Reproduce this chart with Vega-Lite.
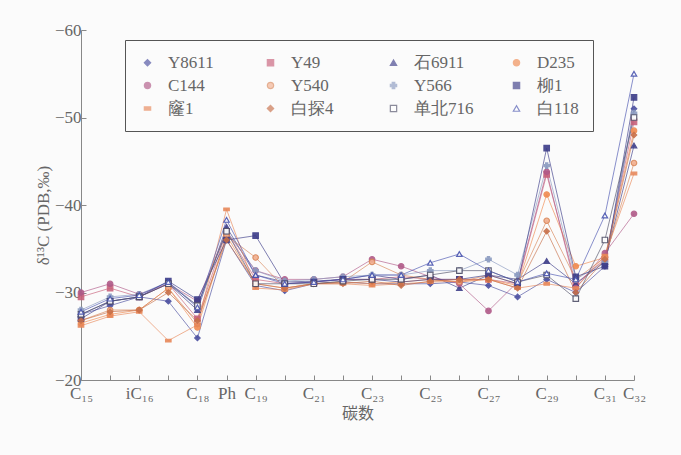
{
  "$schema": "https://vega.github.io/schema/vega-lite/v6.json",
  "autosize": {"type": "none"},
  "width": 553,
  "height": 350,
  "padding": {"left": 81, "top": 30, "right": 47, "bottom": 75},
  "background": "#fbfbfb",
  "config": {
    "view": {"stroke": null},
    "font": "Liberation Serif",
    "axis": {"labelFont": "Liberation Serif", "titleFont": "Liberation Serif", "labelColor": "#666", "titleColor": "#666", "domainColor": "#888", "tickColor": "#888", "grid": false, "labelFontSize": 17, "titleFontSize": 17, "titleFontWeight": "normal"},
    "legend": {"labelFont": "Liberation Serif", "labelFontSize": 17, "labelColor": "#666"}
  },
  "data": {"values": [
    {"s":"Y8611","c":"C₁₅","v":-27.5},{"s":"Y8611","c":"C₁₆","v":-28.5},{"s":"Y8611","c":"iC₁₆","v":-29.5},{"s":"Y8611","c":"C₁₇","v":-29.0},{"s":"Y8611","c":"C₁₈","v":-24.8},{"s":"Y8611","c":"Ph","v":-36.0},{"s":"Y8611","c":"C₁₉","v":-30.8},{"s":"Y8611","c":"C₂₀","v":-30.2},{"s":"Y8611","c":"C₂₁","v":-31.0},{"s":"Y8611","c":"C₂₂","v":-31.2},{"s":"Y8611","c":"C₂₃","v":-31.0},{"s":"Y8611","c":"C₂₄","v":-31.0},{"s":"Y8611","c":"C₂₅","v":-31.0},{"s":"Y8611","c":"C₂₆","v":-31.2},{"s":"Y8611","c":"C₂₇","v":-30.8},{"s":"Y8611","c":"C₂₈","v":-29.5},{"s":"Y8611","c":"C₂₉","v":-31.5},{"s":"Y8611","c":"C₃₀","v":-30.0},{"s":"Y8611","c":"C₃₁","v":-33.0},{"s":"Y8611","c":"C₃₂","v":-51.0},
    {"s":"Y49","c":"C₁₅","v":-29.5},{"s":"Y49","c":"C₁₆","v":-30.5},{"s":"Y49","c":"iC₁₆","v":-29.5},{"s":"Y49","c":"C₁₇","v":-31.0},{"s":"Y49","c":"C₁₈","v":-27.0},{"s":"Y49","c":"Ph","v":-37.0},{"s":"Y49","c":"C₁₉","v":-31.5},{"s":"Y49","c":"C₂₀","v":-31.0},{"s":"Y49","c":"C₂₁","v":-31.2},{"s":"Y49","c":"C₂₂","v":-31.5},{"s":"Y49","c":"C₂₃","v":-31.5},{"s":"Y49","c":"C₂₄","v":-31.8},{"s":"Y49","c":"C₂₅","v":-31.5},{"s":"Y49","c":"C₂₆","v":-31.5},{"s":"Y49","c":"C₂₇","v":-31.5},{"s":"Y49","c":"C₂₈","v":-31.0},{"s":"Y49","c":"C₂₉","v":-43.5},{"s":"Y49","c":"C₃₀","v":-31.0},{"s":"Y49","c":"C₃₁","v":-33.8},{"s":"Y49","c":"C₃₂","v":-49.5},
    {"s":"石6911","c":"C₁₅","v":-27.5},{"s":"石6911","c":"C₁₆","v":-29.0},{"s":"石6911","c":"iC₁₆","v":-29.5},{"s":"石6911","c":"C₁₇","v":-31.0},{"s":"石6911","c":"C₁₈","v":-28.0},{"s":"石6911","c":"Ph","v":-37.5},{"s":"石6911","c":"C₁₉","v":-32.0},{"s":"石6911","c":"C₂₀","v":-31.2},{"s":"石6911","c":"C₂₁","v":-31.3},{"s":"石6911","c":"C₂₂","v":-31.5},{"s":"石6911","c":"C₂₃","v":-32.0},{"s":"石6911","c":"C₂₄","v":-31.5},{"s":"石6911","c":"C₂₅","v":-32.0},{"s":"石6911","c":"C₂₆","v":-30.5},{"s":"石6911","c":"C₂₇","v":-32.0},{"s":"石6911","c":"C₂₈","v":-31.5},{"s":"石6911","c":"C₂₉","v":-33.6},{"s":"石6911","c":"C₃₀","v":-31.0},{"s":"石6911","c":"C₃₁","v":-33.5},{"s":"石6911","c":"C₃₂","v":-46.8},
    {"s":"D235","c":"C₁₅","v":-26.5},{"s":"D235","c":"C₁₆","v":-27.5},{"s":"D235","c":"iC₁₆","v":-28.0},{"s":"D235","c":"C₁₇","v":-30.5},{"s":"D235","c":"C₁₈","v":-26.0},{"s":"D235","c":"Ph","v":-36.5},{"s":"D235","c":"C₁₉","v":-31.0},{"s":"D235","c":"C₂₀","v":-30.5},{"s":"D235","c":"C₂₁","v":-31.0},{"s":"D235","c":"C₂₂","v":-31.2},{"s":"D235","c":"C₂₃","v":-31.0},{"s":"D235","c":"C₂₄","v":-31.2},{"s":"D235","c":"C₂₅","v":-31.5},{"s":"D235","c":"C₂₆","v":-31.2},{"s":"D235","c":"C₂₇","v":-31.5},{"s":"D235","c":"C₂₈","v":-30.8},{"s":"D235","c":"C₂₉","v":-41.2},{"s":"D235","c":"C₃₀","v":-33.0},{"s":"D235","c":"C₃₁","v":-34.0},{"s":"D235","c":"C₃₂","v":-48.5},
    {"s":"C144","c":"C₁₅","v":-30.0},{"s":"C144","c":"C₁₆","v":-31.0},{"s":"C144","c":"iC₁₆","v":-29.8},{"s":"C144","c":"C₁₇","v":-31.0},{"s":"C144","c":"C₁₈","v":-29.0},{"s":"C144","c":"Ph","v":-37.0},{"s":"C144","c":"C₁₉","v":-32.5},{"s":"C144","c":"C₂₀","v":-31.5},{"s":"C144","c":"C₂₁","v":-31.5},{"s":"C144","c":"C₂₂","v":-31.8},{"s":"C144","c":"C₂₃","v":-33.8},{"s":"C144","c":"C₂₄","v":-33.0},{"s":"C144","c":"C₂₅","v":-31.8},{"s":"C144","c":"C₂₆","v":-31.0},{"s":"C144","c":"C₂₇","v":-27.9},{"s":"C144","c":"C₂₈","v":-31.2},{"s":"C144","c":"C₂₉","v":-43.8},{"s":"C144","c":"C₃₀","v":-30.5},{"s":"C144","c":"C₃₁","v":-34.5},{"s":"C144","c":"C₃₂","v":-39.0},
    {"s":"Y540","c":"C₁₅","v":-26.8},{"s":"Y540","c":"C₁₆","v":-28.0},{"s":"Y540","c":"iC₁₆","v":-28.0},{"s":"Y540","c":"C₁₇","v":-30.5},{"s":"Y540","c":"C₁₈","v":-26.5},{"s":"Y540","c":"Ph","v":-36.5},{"s":"Y540","c":"C₁₉","v":-34.0},{"s":"Y540","c":"C₂₀","v":-30.5},{"s":"Y540","c":"C₂₁","v":-31.0},{"s":"Y540","c":"C₂₂","v":-31.2},{"s":"Y540","c":"C₂₃","v":-33.5},{"s":"Y540","c":"C₂₄","v":-32.0},{"s":"Y540","c":"C₂₅","v":-31.5},{"s":"Y540","c":"C₂₆","v":-31.2},{"s":"Y540","c":"C₂₇","v":-32.0},{"s":"Y540","c":"C₂₈","v":-31.0},{"s":"Y540","c":"C₂₉","v":-38.2},{"s":"Y540","c":"C₃₀","v":-31.5},{"s":"Y540","c":"C₃₁","v":-34.0},{"s":"Y540","c":"C₃₂","v":-44.8},
    {"s":"Y566","c":"C₁₅","v":-28.0},{"s":"Y566","c":"C₁₆","v":-29.5},{"s":"Y566","c":"iC₁₆","v":-29.8},{"s":"Y566","c":"C₁₇","v":-31.2},{"s":"Y566","c":"C₁₈","v":-28.5},{"s":"Y566","c":"Ph","v":-37.0},{"s":"Y566","c":"C₁₉","v":-32.5},{"s":"Y566","c":"C₂₀","v":-31.3},{"s":"Y566","c":"C₂₁","v":-31.5},{"s":"Y566","c":"C₂₂","v":-31.8},{"s":"Y566","c":"C₂₃","v":-32.0},{"s":"Y566","c":"C₂₄","v":-32.0},{"s":"Y566","c":"C₂₅","v":-32.5},{"s":"Y566","c":"C₂₆","v":-32.5},{"s":"Y566","c":"C₂₇","v":-33.8},{"s":"Y566","c":"C₂₈","v":-32.0},{"s":"Y566","c":"C₂₉","v":-44.5},{"s":"Y566","c":"C₃₀","v":-31.5},{"s":"Y566","c":"C₃₁","v":-33.5},{"s":"Y566","c":"C₃₂","v":-50.5},
    {"s":"柳1","c":"C₁₅","v":-27.0},{"s":"柳1","c":"C₁₆","v":-29.0},{"s":"柳1","c":"iC₁₆","v":-29.5},{"s":"柳1","c":"C₁₇","v":-31.3},{"s":"柳1","c":"C₁₈","v":-29.2},{"s":"柳1","c":"Ph","v":-36.0},{"s":"柳1","c":"C₁₉","v":-36.5},{"s":"柳1","c":"C₂₀","v":-31.0},{"s":"柳1","c":"C₂₁","v":-31.2},{"s":"柳1","c":"C₂₂","v":-31.5},{"s":"柳1","c":"C₂₃","v":-31.5},{"s":"柳1","c":"C₂₄","v":-31.2},{"s":"柳1","c":"C₂₅","v":-31.5},{"s":"柳1","c":"C₂₆","v":-31.5},{"s":"柳1","c":"C₂₇","v":-32.0},{"s":"柳1","c":"C₂₈","v":-31.0},{"s":"柳1","c":"C₂₉","v":-46.5},{"s":"柳1","c":"C₃₀","v":-31.8},{"s":"柳1","c":"C₃₁","v":-33.0},{"s":"柳1","c":"C₃₂","v":-52.3},
    {"s":"窿1","c":"C₁₅","v":-26.2},{"s":"窿1","c":"C₁₆","v":-27.3},{"s":"窿1","c":"iC₁₆","v":-27.8},{"s":"窿1","c":"C₁₇","v":-24.5},{"s":"窿1","c":"C₁₈","v":-26.3},{"s":"窿1","c":"Ph","v":-39.5},{"s":"窿1","c":"C₁₉","v":-30.5},{"s":"窿1","c":"C₂₀","v":-30.3},{"s":"窿1","c":"C₂₁","v":-31.0},{"s":"窿1","c":"C₂₂","v":-31.0},{"s":"窿1","c":"C₂₃","v":-30.8},{"s":"窿1","c":"C₂₄","v":-31.0},{"s":"窿1","c":"C₂₅","v":-31.2},{"s":"窿1","c":"C₂₆","v":-31.3},{"s":"窿1","c":"C₂₇","v":-31.5},{"s":"窿1","c":"C₂₈","v":-30.5},{"s":"窿1","c":"C₂₉","v":-31.0},{"s":"窿1","c":"C₃₀","v":-30.5},{"s":"窿1","c":"C₃₁","v":-34.2},{"s":"窿1","c":"C₃₂","v":-43.6},
    {"s":"白探4","c":"C₁₅","v":-26.8},{"s":"白探4","c":"C₁₆","v":-27.8},{"s":"白探4","c":"iC₁₆","v":-28.0},{"s":"白探4","c":"C₁₇","v":-30.0},{"s":"白探4","c":"C₁₈","v":-26.8},{"s":"白探4","c":"Ph","v":-36.0},{"s":"白探4","c":"C₁₉","v":-31.0},{"s":"白探4","c":"C₂₀","v":-30.5},{"s":"白探4","c":"C₂₁","v":-31.0},{"s":"白探4","c":"C₂₂","v":-31.0},{"s":"白探4","c":"C₂₃","v":-31.3},{"s":"白探4","c":"C₂₄","v":-30.8},{"s":"白探4","c":"C₂₅","v":-31.3},{"s":"白探4","c":"C₂₆","v":-31.5},{"s":"白探4","c":"C₂₇","v":-31.5},{"s":"白探4","c":"C₂₈","v":-30.5},{"s":"白探4","c":"C₂₉","v":-37.0},{"s":"白探4","c":"C₃₀","v":-30.0},{"s":"白探4","c":"C₃₁","v":-33.8},{"s":"白探4","c":"C₃₂","v":-48.0},
    {"s":"单北716","c":"C₁₅","v":-27.5},{"s":"单北716","c":"C₁₆","v":-29.0},{"s":"单北716","c":"iC₁₆","v":-29.5},{"s":"单北716","c":"C₁₇","v":-31.0},{"s":"单北716","c":"C₁₈","v":-28.5},{"s":"单北716","c":"Ph","v":-37.0},{"s":"单北716","c":"C₁₉","v":-31.0},{"s":"单北716","c":"C₂₀","v":-31.0},{"s":"单北716","c":"C₂₁","v":-31.0},{"s":"单北716","c":"C₂₂","v":-31.3},{"s":"单北716","c":"C₂₃","v":-31.5},{"s":"单北716","c":"C₂₄","v":-31.5},{"s":"单北716","c":"C₂₅","v":-32.0},{"s":"单北716","c":"C₂₆","v":-32.5},{"s":"单北716","c":"C₂₇","v":-32.5},{"s":"单北716","c":"C₂₈","v":-31.2},{"s":"单北716","c":"C₂₉","v":-32.0},{"s":"单北716","c":"C₃₀","v":-29.3},{"s":"单北716","c":"C₃₁","v":-36.0},{"s":"单北716","c":"C₃₂","v":-50.0},
    {"s":"白118","c":"C₁₅","v":-27.8},{"s":"白118","c":"C₁₆","v":-29.3},{"s":"白118","c":"iC₁₆","v":-29.7},{"s":"白118","c":"C₁₇","v":-31.2},{"s":"白118","c":"C₁₈","v":-28.3},{"s":"白118","c":"Ph","v":-38.3},{"s":"白118","c":"C₁₉","v":-32.0},{"s":"白118","c":"C₂₀","v":-31.0},{"s":"白118","c":"C₂₁","v":-31.2},{"s":"白118","c":"C₂₂","v":-31.5},{"s":"白118","c":"C₂₃","v":-32.0},{"s":"白118","c":"C₂₄","v":-32.0},{"s":"白118","c":"C₂₅","v":-33.4},{"s":"白118","c":"C₂₆","v":-34.4},{"s":"白118","c":"C₂₇","v":-32.5},{"s":"白118","c":"C₂₈","v":-31.2},{"s":"白118","c":"C₂₉","v":-32.2},{"s":"白118","c":"C₃₀","v":-31.5},{"s":"白118","c":"C₃₁","v":-38.8},{"s":"白118","c":"C₃₂","v":-55.0}
  ]},
  "encoding": {
    "x": {
      "field": "c", "type": "ordinal", "sort": null,
      "scale": {"type": "point", "padding": 0},
      "axis": {
        "title": "碳数", "titleFont": "Noto Sans CJK SC", "titleFontSize": 16, "titlePadding": 4,
        "labelAngle": 0, "tickSize": -5, "labelPadding": 10, "labelBaseline": "top",
        "labelExpr": "indexof(['C₁₆','C₁₇','C₂₀','C₂₂','C₂₄','C₂₆','C₂₈','C₃₀'], datum.value) >= 0 ? '' : datum.value"
      }
    },
    "y": {
      "field": "v", "type": "quantitative",
      "scale": {"domain": [-60, -20], "reverse": true, "nice": false, "zero": false},
      "axis": {
        "title": "δ¹³C (PDB,‰)", "values": [-60, -50, -40, -30, -20], "tickSize": -5, "labelPadding": 5, "labelFontSize": 17,
        "titleX": -38, "titleY": 185, "titleAngle": -90, "titleAlign": "center", "titleBaseline": "middle"
      }
    },
    "stroke": {
      "field": "s", "type": "nominal",
      "scale": {
        "domain": ["Y8611","Y49","石6911","D235","C144","Y540","Y566","柳1","窿1","白探4","单北716","白118"],
        "range": ["#4b4fa0","#c8607a","#3f3f8a","#f08a50","#b05a88","#d9875a","#8a9ac0","#3c3c88","#e8885a","#c8704a","#505068","#4a55b0"]
      },
      "legend": {
        "title": null, "orient": "none", "legendX": 44, "legendY": 10, "columns": 4, "gridAlign": "all",
        "direction": "horizontal",
        "strokeColor": "#555", "padding": 14, "columnPadding": 34, "rowPadding": 5,
        "labelFont": "Liberation Serif", "labelFontSize": 17, "labelColor": "#666",
        "symbolSize": 40, "symbolStrokeWidth": 1.2, "labelOffset": 12
      }
    }
  },
  "layer": [
    {
      "mark": {"type": "line", "strokeWidth": 1, "opacity": 0.65}
    },
    {
      "mark": {"type": "point", "filled": false, "size": 30, "strokeWidth": 1.2, "opacity": 0.9},
      "encoding": {
        "shape": {
          "field": "s", "type": "nominal",
          "scale": {
            "domain": ["Y8611","Y49","石6911","D235","C144","Y540","Y566","柳1","窿1","白探4","单北716","白118"],
            "range": ["diamond","square","triangle-up","circle","circle","circle","cross","square","M-1,-0.5H1V0.5H-1Z","diamond","square","triangle-up"]
          },
          "legend": null
        },
        "fill": {
          "field": "s", "type": "nominal",
          "scale": {
            "domain": ["Y8611","Y49","石6911","D235","C144","Y540","Y566","柳1","窿1","白探4","单北716","白118"],
            "range": ["#4b4fa0","#c8607a","#3f3f8a","#f08a50","#b05a88","#f3b090","#8a9ac0","#3c3c88","#e8885a","#c8704a","#ffffff","#ffffff"]
          },
          "legend": null
        }
      }
    }
  ]
}
